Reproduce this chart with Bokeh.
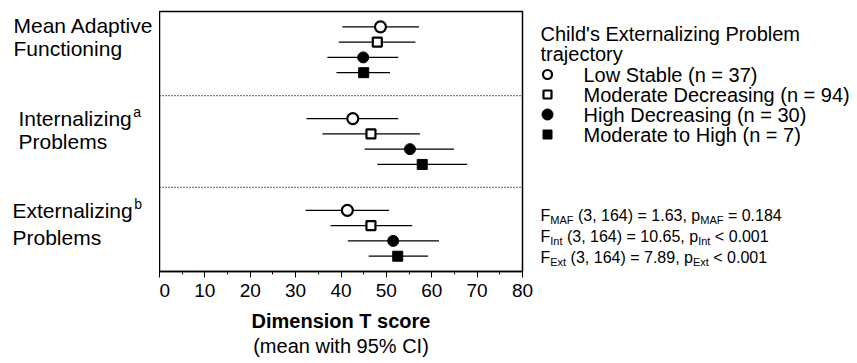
from bokeh.plotting import figure
from bokeh.layouts import row
from bokeh.models import Range1d, LinearAxis, SingleIntervalTicker, FixedTicker, Span
from bokeh.embed import file_html
from bokeh.resources import INLINE
from bokeh.core.properties import value

# ---------------- data ----------------
dim_lines = [["Mean Adaptive", "Functioning"],
             ["Internalizing", "Problems"],
             ["Externalizing", "Problems"]]
dim_sup = ["", "a", "b"]
dim_indent = [0, 5, -1]

groups = ["Low Stable (n = 37)", "Moderate Decreasing (n = 94)",
          "High Decreasing (n = 30)", "Moderate to High (n = 7)"]

# order of values: MAF, Internalizing, Externalizing
low_stable_mean = [48.7, 42.6, 41.4]
low_stable_lo = [40.3, 32.4, 32.2]
low_stable_hi = [57.2, 52.6, 50.6]
mod_dec_mean = [48.0, 46.6, 46.6]
mod_dec_lo = [39.5, 35.9, 37.7]
mod_dec_hi = [56.4, 57.4, 55.7]
high_dec_mean = [44.9, 55.2, 51.5]
high_dec_lo = [37.0, 45.2, 41.5]
high_dec_hi = [52.6, 64.9, 61.6]
mod_high_mean = [45.0, 57.9, 52.5]
mod_high_lo = [39.0, 48.0, 46.1]
mod_high_hi = [50.8, 67.8, 59.2]

x_ticks = [0, 10, 20, 30, 40, 50, 60, 70, 80]
legend_title = ["Child's Externalizing Problem", "trajectory"]
stat_names = ["MAF", "Int", "Ext"]
stat_df = "3, 164"
stat_F = ["1.63", "10.65", "7.89"]
stat_rel = ["=", "<", "<"]
stat_p = ["0.184", "0.001", "0.001"]
x_label = "Dimension T score"
x_sublabel = "(mean with 95% CI)"

series = [
    (low_stable_mean, low_stable_lo, low_stable_hi),
    (mod_dec_mean, mod_dec_lo, mod_dec_hi),
    (high_dec_mean, high_dec_lo, high_dec_hi),
    (mod_high_mean, mod_high_lo, mod_high_hi),
]

# ---------------- styles ----------------
FONT = "Liberation Sans"
markers = ["circle", "square", "circle", "square"]
fills = ["white", "white", "black", "black"]
sizes = [11, 9, 11, 10]
lwidths = [2.2, 2.2, 1, 1]
leg_sizes = [9, 8, 11, 9]

W = {' ': 278, '(': 333, ')': 333, ',': 278, '.': 278, '=': 584, '<': 584,
     'F': 611, 'M': 833, 'A': 667, 'I': 278, 'E': 667, 'p': 556, 'n': 556,
     't': 278, 'x': 500, 'a': 556, 'e': 556, 'r': 333, 'l': 222, 'i': 222,
     'z': 500, 'g': 556}


def tw(s, size):
    return sum(W.get(c, 556) for c in s) * size / 1000.0


TOP, BOTTOM = 11, 92
H = 363
NROWS = 17

# ---------------- main plot ----------------
p = figure(width=381, height=H, x_range=Range1d(0, 80), y_range=Range1d(NROWS, 0),
           output_backend="svg", toolbar_location=None, y_axis_location=None,
           title=None,
           min_border_left=0, min_border_right=18, min_border_top=TOP,
           min_border_bottom=BOTTOM)
p.xgrid.visible = False
p.ygrid.visible = False
p.outline_line_color = "black"
p.outline_line_width = 1.5
p.background_fill_color = "white"
p.border_fill_color = "white"

for g in range(len(dim_lines) - 1):
    p.add_layout(Span(location=(g + 1) * 6 - 0.5, dimension="width",
                      line_color="black", line_dash="1 2", line_width=1.3))

for k, (m, lo, hi) in enumerate(series):
    ys = [g * 6 + k + 1 for g in range(len(m))]
    p.segment(x0=lo, x1=hi, y0=ys, y1=ys, line_color="black", line_width=1.3)
    p.scatter(x=m, y=ys, marker=markers[k], size=sizes[k], fill_color=fills[k],
              line_color="black", line_width=lwidths[k])

ax = p.xaxis[0]
ax.ticker = SingleIntervalTicker(interval=10, num_minor_ticks=2)
ax.axis_line_color = "black"
ax.axis_line_width = 1.5
ax.major_tick_in = 0
ax.major_tick_out = 6
ax.minor_tick_in = 0
ax.minor_tick_out = 3
ax.major_tick_line_color = "black"
ax.minor_tick_line_color = "black"
ax.major_label_text_font = FONT
ax.major_label_text_font_size = "19px"
ax.major_label_text_color = "black"
ax.major_label_standoff = 6
ax.axis_label = x_label
ax.axis_label_text_font = FONT
ax.axis_label_text_font_size = "20px"
ax.axis_label_text_font_style = "bold"
ax.axis_label_text_color = "black"
ax.axis_label_standoff = 10

ax2 = LinearAxis(ticker=FixedTicker(ticks=[]), axis_label=x_sublabel,
                 axis_line_color=None, major_tick_line_color=None,
                 minor_tick_line_color=None, axis_label_standoff=0,
                 axis_label_text_font=FONT, axis_label_text_font_size="20px",
                 axis_label_text_font_style="normal", axis_label_text_color="black")
p.add_layout(ax2, "below")

# ---------------- left labels ----------------
left = figure(width=159, height=H, x_range=Range1d(0, 159), y_range=p.y_range,
              output_backend="svg", toolbar_location=None, title=None,
              x_axis_location=None, y_axis_location=None,
              min_border_left=0, min_border_right=0, min_border_top=TOP,
              min_border_bottom=BOTTOM)
left.outline_line_color = None
left.xgrid.visible = False
left.ygrid.visible = False
line2_gap = [1.5, 1.5, 1.75]
for g, lines in enumerate(dim_lines):
    x0 = 13 + dim_indent[g]
    base_y = g * 6 + 0.9 + (0.1 if g > 0 else 0)
    for j, t in enumerate(lines):
        left.text(x=[x0], y=[base_y + j * line2_gap[g]], text=[t], text_font=value(FONT),
                  text_font_size="21px", text_baseline="middle", text_align="left",
                  text_color="black")
    if dim_sup[g]:
        xs = x0 + tw(lines[0], 21) + 1.5
        left.text(x=[xs], y=[base_y - 0.4], text=[dim_sup[g]], text_font=value(FONT),
                  text_font_size="14px", text_baseline="middle", text_align="left",
                  text_color="black")

# ---------------- right: legend + stats (coordinates = page pixels) ----------------
RW = 317
right = figure(width=RW, height=H, x_range=Range1d(0, RW),
               y_range=Range1d(H - BOTTOM, TOP), title=None,
               output_backend="svg", toolbar_location=None,
               x_axis_location=None, y_axis_location=None,
               min_border_left=0, min_border_right=0, min_border_top=TOP,
               min_border_bottom=BOTTOM)
right.outline_line_color = None
right.xgrid.visible = False
right.ygrid.visible = False

for j, t in enumerate(legend_title):
    right.text(x=[0], y=[33 + j * 20], text=[t], text_font=value(FONT),
               text_font_size="20px", text_baseline="middle", text_align="left",
               text_color="black")
for k, name in enumerate(groups):
    yy = 74 + k * 20
    right.scatter(x=[7], y=[yy], marker=markers[k], size=leg_sizes[k],
                  fill_color=fills[k], line_color="black", line_width=lwidths[k])
    right.text(x=[43], y=[yy], text=[name], text_font=value(FONT),
               text_font_size="20px", text_baseline="middle", text_align="left",
               text_color="black")

MS, SS = 16, 11
for i, nm in enumerate(stat_names):
    base = 215 + i * 21
    segs = [("F", MS, 0), (nm, SS, 4),
            ("(" + stat_df + ") = " + stat_F[i] + ", p", MS, 0), (nm, SS, 4),
            (stat_rel[i] + " " + stat_p[i], MS, 0)]
    x = 0.0
    for si, (t, fs, dy) in enumerate(segs):
        if si in (2, 4):
            x += tw(" ", MS)
        right.text(x=[x], y=[base + dy], text=[t], text_font=value(FONT),
                   text_font_size=f"{fs}px", text_baseline="alphabetic",
                   text_align="left", text_color="black")
        x += tw(t, fs)

layout = row(left, p, right, spacing=0)
open("out.html", "w").write(file_html(layout, INLINE))
